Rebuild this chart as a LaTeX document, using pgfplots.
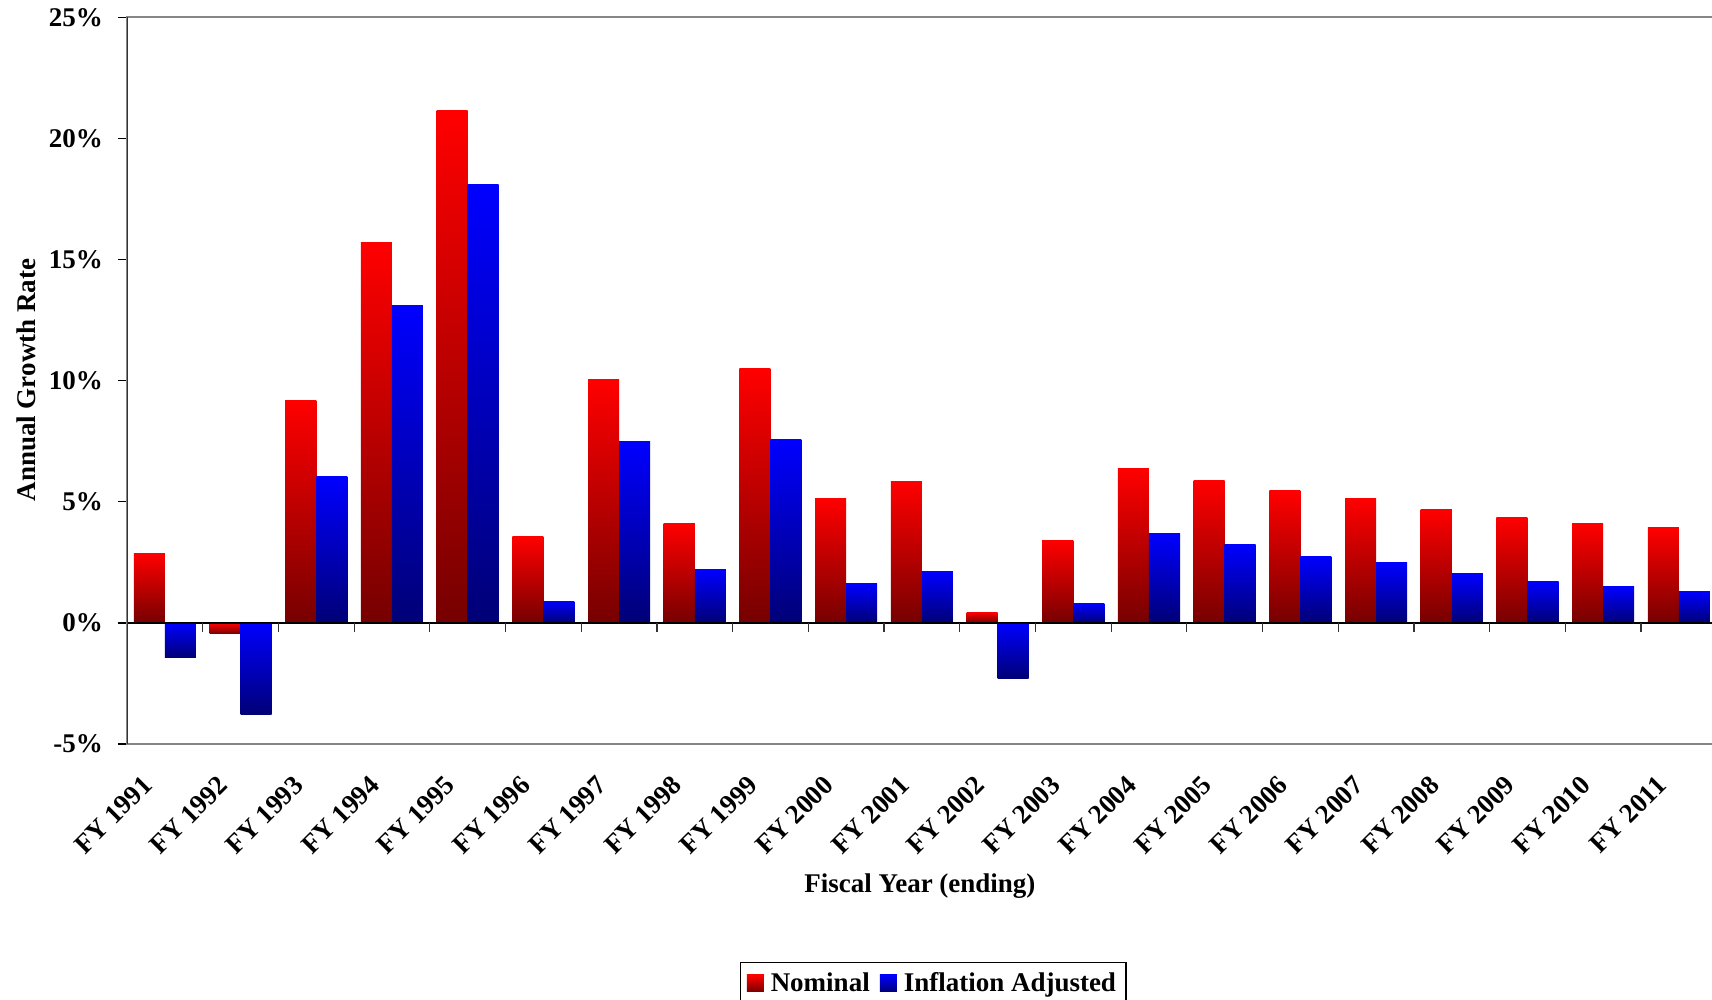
\documentclass[border=0pt]{standalone}
\usepackage{fontspec}
\setmainfont{Liberation Serif}
\usepackage{pgfplots}
\usepackage{pgfplotstable}
\pgfplotsset{compat=1.18}

\definecolor{redtop}{RGB}{255,0,0}
\definecolor{redbot}{RGB}{118,0,0}
\definecolor{bluetop}{RGB}{0,0,255}
\definecolor{bluebot}{RGB}{0,0,118}
\definecolor{frame}{RGB}{134,134,134}

% growth rates in percent, one row per fiscal year
\pgfplotstableread{
x nom infl
0 2.88 -1.44
1 -0.45 -3.78
2 9.19 6.04
3 15.72 13.10
4 21.17 18.10
5 3.56 0.90
6 10.05 7.48
7 4.10 2.20
8 10.50 7.57
9 5.14 1.62
10 5.86 2.12
11 0.45 -2.30
12 3.42 0.81
13 6.37 3.69
14 5.90 3.24
15 5.45 2.75
16 5.14 2.48
17 4.68 2.03
18 4.37 1.71
19 4.10 1.49
20 3.92 1.31
}\growth

\begin{document}
\begin{tikzpicture}[font=\fontsize{13.5}{16}\selectfont\bfseries]
\begin{axis}[
    at={(63.5pt,128pt)}, anchor=south west,
    scale only axis, width=800pt, height=363.25pt,
    xmin=-0.5, xmax=20.636, ymin=-5, ymax=25,
    ybar, bar width=0.41,
    nom/.style={draw=none, top color=redtop, bottom color=redbot, bar shift=-0.205},
    infl/.style={draw=none, top color=bluetop, bottom color=bluebot, bar shift=0.205},
    axis line style={draw=frame, line width=1pt},
    ytick={-5,0,...,25},
    yticklabel={\pgfmathprintnumber{\tick}\%},
    /pgf/number format/assume math mode=true,
    tick align=outside, major tick length=4.5pt,
    ytick style={black, line width=0.6pt},
    xtick={0,...,20},
    xtick style={draw=none},
    xticklabels={FY 1991,FY 1992,FY 1993,FY 1994,FY 1995,FY 1996,FY 1997,FY 1998,FY 1999,FY 2000,FY 2001,FY 2002,FY 2003,FY 2004,FY 2005,FY 2006,FY 2007,FY 2008,FY 2009,FY 2010,FY 2011},
    xticklabel style={rotate=45, anchor=north east, yshift=4.4pt, xshift=-12.5pt},
    yticklabel style={xshift=-4pt},
    xlabel={Fiscal Year (ending)},
    ylabel={Annual Growth Rate},
    every axis x label/.style={at={(axis description cs:0.4956,-0.1955)}, anchor=center},
    every axis y label/.style={at={(axis description cs:-0.0631,0.501)}, rotate=90, anchor=center},
    legend columns=2,
    legend style={at={(axis description cs:0.504,-0.300)}, anchor=north,
        draw=black, line width=0.6pt, inner xsep=3pt, inner ysep=3pt,
        /tikz/every odd column/.append style={column sep=1.5pt},
        /tikz/every even column/.append style={column sep=3pt}},
]
% one plot per bar so that each bar gets its own gradient
\addplot[nom, legend image code/.code={\path[top color=redtop, bottom color=redbot] (0pt,-4.2pt) rectangle (8.5pt,4.3pt);}]
    table[x=x, y=nom, restrict x to domain=0:0] {\growth};
\addlegendentry{Nominal}
\addplot[infl, legend image code/.code={\path[top color=bluetop, bottom color=bluebot] (0pt,-4.2pt) rectangle (8.5pt,4.3pt);}]
    table[x=x, y=infl, restrict x to domain=0:0] {\growth};
\addlegendentry{Inflation Adjusted}
\pgfplotsinvokeforeach{1,...,20}{
  \addplot[nom, forget plot] table[x=x, y=nom, restrict x to domain=#1:#1] {\growth};
  \addplot[infl, forget plot] table[x=x, y=infl, restrict x to domain=#1:#1] {\growth};
}
\draw[black, line width=0.8pt] (axis cs:-0.5,0) -- (axis cs:20.636,0);
\pgfplotsinvokeforeach{0.5,1.5,...,20.5}{
  \draw[black!80, line width=0.6pt] (axis cs:#1,0) -- ++(0pt,-4.5pt);
}
\draw[black!80, line width=1pt] (axis cs:-0.5,-5) -- (axis cs:-0.5,25);
\end{axis}
\pgfresetboundingbox
\path[use as bounding box] (0,0) rectangle (856pt,500pt);
\end{tikzpicture}
\end{document}
